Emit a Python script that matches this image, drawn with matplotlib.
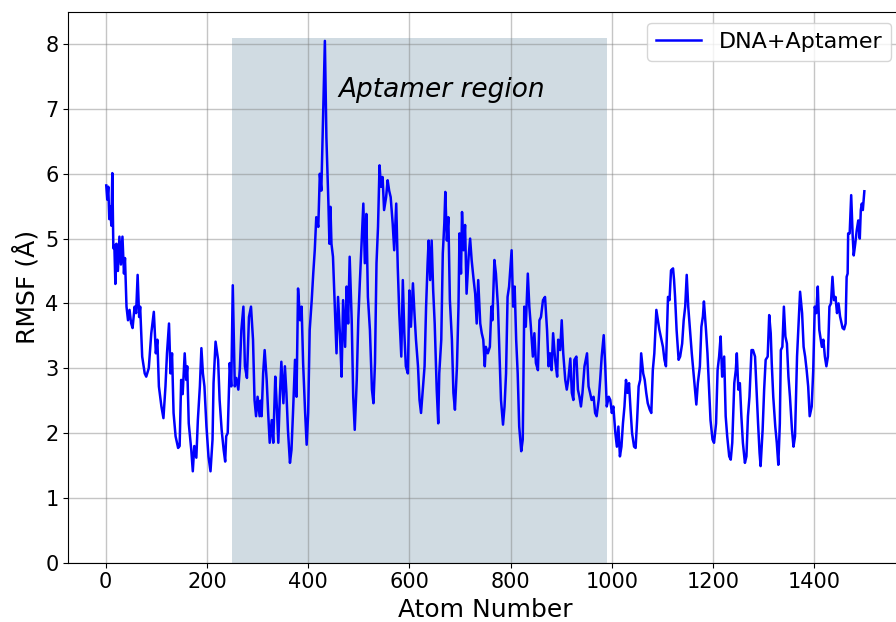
import matplotlib
matplotlib.use('Agg')
import matplotlib.pyplot as plt

# RMSF per atom (peaks and troughs)
atoms = [1, 3, 5, 7, 9, 11, 13, 15, 17, 19, 21, 24, 27, 30, 33, 36, 38, 41, 44, 47,
         50, 53, 57, 60, 63, 66, 68, 72, 77, 80, 85, 90, 95, 99, 102, 105, 110, 114, 118, 121,
         125, 128, 131, 134, 138, 143, 146, 149, 152, 156, 159, 161, 164, 169, 172, 175, 179, 182, 186, 189,
         192, 195, 199, 203, 207, 211, 213, 217, 222, 225, 229, 233, 236, 238, 241, 245, 248, 251, 255, 258,
         262, 265, 268, 272, 275, 279, 283, 287, 291, 294, 297, 300, 304, 306, 308, 311, 314, 318, 321, 324,
         328, 331, 335, 338, 341, 344, 347, 351, 354, 357, 360, 364, 367, 370, 374, 377, 380, 384, 387, 390,
         394, 397, 400, 403, 407, 410, 413, 416, 420, 423, 426, 430, 433, 436, 440, 442, 444, 446, 449, 453,
         456, 459, 463, 466, 469, 473, 476, 479, 482, 486, 489, 492, 496, 499, 502, 509, 512, 515, 518, 522,
         526, 529, 532, 535, 538, 541, 544, 547, 550, 554, 557, 560, 563, 567, 570, 574, 577, 580, 584, 587,
         590, 593, 597, 600, 603, 607, 610, 613, 617, 620, 623, 626, 630, 633, 636, 638, 641, 644, 647, 650,
         654, 657, 659, 663, 666, 669, 671, 674, 677, 680, 684, 687, 690, 694, 697, 699, 702, 704, 707, 710,
         713, 717, 720, 723, 727, 730, 733, 736, 740, 743, 746, 749, 751, 755, 759, 762, 764, 768, 771, 775,
         778, 781, 785, 788, 791, 794, 797, 802, 805, 808, 811, 814, 817, 821, 824, 827, 830, 834, 837, 840,
         844, 847, 850, 854, 857, 860, 864, 868, 872, 875, 878, 881, 884, 888, 892, 894, 898, 901, 904, 908,
         911, 914, 918, 921, 924, 926, 930, 933, 936, 939, 942, 946, 951, 954, 957, 960, 964, 967, 970, 974,
         977, 980, 984, 987, 990, 994, 997, 1000, 1003, 1007, 1010, 1013, 1016, 1019, 1022, 1025, 1028, 1031, 1034, 1037,
         1040, 1044, 1047, 1050, 1053, 1056, 1058, 1062, 1065, 1068, 1071, 1075, 1078, 1081, 1084, 1088, 1091, 1094, 1098, 1101,
         1104, 1107, 1111, 1114, 1117, 1121, 1123, 1125, 1128, 1132, 1135, 1139, 1142, 1145, 1148, 1151, 1155, 1158, 1161, 1164,
         1167, 1170, 1174, 1177, 1180, 1182, 1186, 1189, 1192, 1195, 1199, 1202, 1206, 1209, 1212, 1215, 1218, 1222, 1225, 1228,
         1232, 1235, 1238, 1242, 1245, 1247, 1250, 1253, 1256, 1259, 1263, 1266, 1269, 1272, 1276, 1279, 1283, 1286, 1289, 1292,
         1294, 1298, 1301, 1304, 1308, 1311, 1314, 1316, 1319, 1323, 1326, 1329, 1332, 1334, 1337, 1340, 1343, 1346, 1349, 1352,
         1356, 1359, 1362, 1366, 1369, 1372, 1376, 1379, 1382, 1385, 1388, 1391, 1395, 1398, 1401, 1404, 1407, 1410, 1412, 1415,
         1418, 1421, 1424, 1427, 1430, 1433, 1436, 1439, 1442, 1445, 1448, 1451, 1456, 1459, 1462, 1464, 1466, 1467, 1470, 1473,
         1476, 1478, 1481, 1484, 1487, 1490, 1492, 1494, 1496, 1499]

rmsf = [5.82, 5.6, 5.8, 5.3, 5.5, 5.2, 6.01, 4.85, 4.9, 4.3, 4.92, 4.5, 5.03, 4.6, 5.03, 4.46, 4.7, 3.95, 3.74, 3.9,
        3.7, 3.62, 3.95, 3.85, 4.44, 3.79, 3.95, 3.18, 2.92, 2.87, 3.0, 3.54, 3.87, 3.23, 3.44, 2.72, 2.41, 2.23, 2.72, 3.23,
        3.69, 2.92, 3.23, 2.31, 1.95, 1.77, 1.8, 2.82, 2.6, 3.23, 2.82, 3.03, 2.15, 1.74, 1.41, 1.8, 1.62, 2.2, 2.72, 3.31,
        2.92, 2.72, 2.1, 1.64, 1.41, 1.9, 2.77, 3.41, 3.13, 2.51, 2.05, 1.74, 1.56, 1.95, 2.0, 3.08, 2.72, 4.28, 2.72, 2.85,
        2.67, 3.0, 3.59, 3.95, 3.03, 2.85, 3.79, 3.95, 3.44, 2.51, 2.26, 2.56, 2.26, 2.5, 2.26, 2.92, 3.28, 2.82, 2.3, 1.85,
        2.2, 1.85, 2.87, 2.41, 1.85, 2.56, 3.1, 2.46, 3.03, 2.62, 2.05, 1.54, 1.74, 2.31, 3.13, 2.56, 4.23, 3.74, 3.95, 3.08,
        2.31, 1.82, 2.31, 3.59, 4.05, 4.46, 4.82, 5.33, 5.18, 6.0, 5.74, 7.03, 8.05, 6.56, 5.54, 4.92, 5.49, 4.92, 4.72, 3.85,
        3.23, 4.1, 3.49, 2.87, 4.05, 3.33, 4.26, 3.69, 4.72, 3.74, 2.56, 2.05, 2.82, 3.74, 4.31, 5.54, 4.62, 5.38, 4.1, 3.59,
        2.67, 2.46, 3.08, 4.62, 5.18, 6.13, 5.8, 5.95, 5.44, 5.64, 5.9, 5.74, 5.64, 5.23, 4.82, 5.54, 4.56, 3.85, 3.18, 4.36,
        3.54, 3.03, 2.92, 4.2, 3.64, 4.31, 3.85, 3.44, 3.03, 2.51, 2.31, 2.62, 3.03, 3.95, 4.62, 4.97, 4.36, 4.97, 4.2, 3.69,
        2.67, 2.15, 2.92, 3.44, 4.77, 5.23, 5.72, 4.97, 5.33, 4.05, 3.44, 2.62, 2.36, 3.03, 3.95, 5.08, 4.46, 5.41, 4.82, 5.21,
        4.15, 4.72, 5.0, 4.67, 4.36, 4.15, 3.69, 4.36, 3.69, 3.54, 3.44, 3.03, 3.33, 3.23, 3.33, 3.95, 3.74, 4.67, 4.46, 3.95,
        3.23, 2.51, 2.13, 2.41, 2.92, 4.1, 4.26, 4.82, 3.95, 4.26, 3.44, 2.92, 2.1, 1.72, 1.9, 3.95, 3.64, 4.46, 3.95, 3.64,
        3.18, 3.54, 3.08, 2.97, 3.74, 3.79, 4.05, 4.1, 3.59, 3.03, 3.23, 2.97, 3.54, 3.13, 2.87, 3.44, 3.28, 3.74, 3.23, 2.82,
        2.67, 2.82, 3.15, 2.62, 2.51, 3.13, 3.18, 2.67, 2.56, 2.41, 2.62, 3.03, 3.23, 2.72, 2.62, 2.51, 2.56, 2.31, 2.26, 2.51,
        2.82, 3.18, 3.51, 3.03, 2.41, 2.56, 2.51, 2.31, 2.41, 2.0, 1.79, 2.1, 1.64, 1.79, 2.15, 2.41, 2.82, 2.62, 2.77, 2.36,
        2.0, 1.79, 1.77, 2.2, 2.72, 2.82, 3.23, 2.92, 2.82, 2.62, 2.46, 2.36, 2.31, 2.97, 3.23, 3.9, 3.74, 3.59, 3.44, 3.33,
        3.13, 3.03, 4.1, 4.05, 4.51, 4.54, 4.36, 4.1, 3.59, 3.13, 3.18, 3.38, 3.74, 3.95, 4.44, 3.95, 3.54, 3.23, 2.97, 2.72,
        2.44, 2.77, 3.03, 3.64, 3.8, 4.03, 3.6, 3.23, 2.72, 2.2, 1.9, 1.85, 2.15, 2.97, 3.18, 3.49, 2.87, 3.18, 2.26, 1.95,
        1.64, 1.59, 1.85, 2.77, 2.97, 3.23, 2.67, 2.77, 2.26, 1.85, 1.54, 1.64, 2.26, 2.56, 3.28, 3.28, 3.18, 2.67, 2.15, 1.69,
        1.49, 2.05, 2.67, 3.13, 3.18, 3.82, 3.54, 3.08, 2.56, 2.1, 1.85, 1.51, 2.15, 3.28, 3.33, 3.95, 3.49, 3.38, 2.87, 2.56,
        2.05, 1.79, 1.95, 3.18, 3.69, 4.18, 3.85, 3.33, 3.18, 2.97, 2.72, 2.26, 2.41, 2.97, 3.95, 3.85, 4.26, 3.59, 3.49, 3.33,
        3.44, 3.18, 3.03, 3.18, 3.95, 4.0, 4.41, 4.05, 4.1, 3.85, 4.0, 3.8, 3.62, 3.6, 3.69, 4.41, 4.46, 5.08, 5.08, 5.67,
        5.03, 4.74, 4.92, 5.13, 5.28, 5.0, 5.44, 5.54, 5.44, 5.73]

region_start, region_end, region_top = 250, 990, 8.1

fig = plt.figure(figsize=(8.96, 6.22), dpi=100)
ax = fig.add_axes([68.3 / 896, 59.3 / 622, 834 / 896, 551 / 622])

ax.fill_between([region_start, region_end], 0, region_top, color='#46708f', alpha=0.25, lw=0)
ax.plot(atoms, rmsf, color='blue', lw=1.8, label='DNA+Aptamer')
ax.text(663, 7.29, 'Aptamer region', style='italic', fontsize=19, ha='center', va='center')

ax.set_xlim(-74, 1574)
ax.set_ylim(0, 8.5)
ax.set_xticks(range(0, 1401, 200))
ax.set_yticks(range(0, 9))
ax.tick_params(labelsize=15)
ax.grid(True, color='gray', alpha=0.45, lw=1)
ax.set_xlabel('Atom Number', fontsize=18)
ax.set_ylabel('RMSF (Å)', fontsize=18)
ax.legend(loc='upper right', fontsize=16)

fig.savefig('out.png', dpi=100)
